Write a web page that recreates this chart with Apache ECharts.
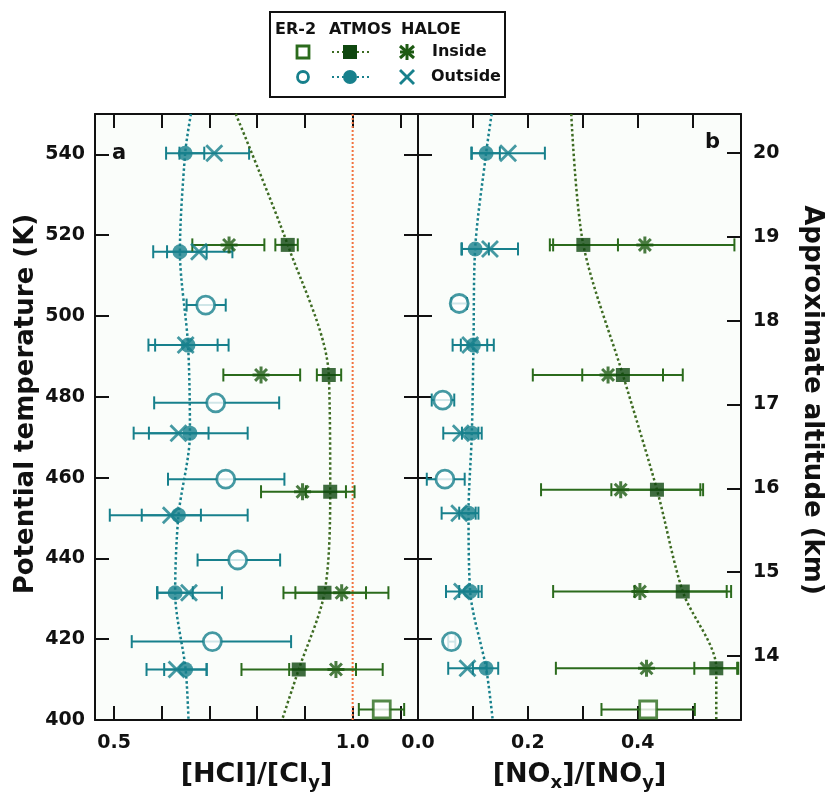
<!DOCTYPE html>
<html>
<head>
<meta charset="utf-8">
<script src="https://cdn.jsdelivr.net/npm/echarts@6/dist/echarts.min.js"></script>
<style>
  html, body { margin: 0; padding: 0; background: #fff; }
  #chart { width: 830px; height: 798px; }
</style>
</head>
<body>
<div id="chart"></div>
<script>
// rows: [theta (K), value, errLow, errHigh]
const er2InA = [[402.6, 1.061, 1.013, 1.108]];
const er2OutA = [[502.7, 0.692, 0.652, 0.734], [478.5, 0.713, 0.584, 0.846], [459.6, 0.734, 0.613, 0.857], [439.6, 0.759, 0.675, 0.848], [419.4, 0.706, 0.537, 0.871]];
const atmosInA = [[517.6, 0.864, 0.838, 0.885], [485.4, 0.950, 0.925, 0.976], [456.5, 0.953, 0.902, 1.004], [431.5, 0.941, 0.855, 1.028], [412.5, 0.887, 0.767, 1.007]];
const atmosOutA = [[540.3, 0.649, 0.609, 0.689], [515.9, 0.638, 0.582, 0.694], [492.8, 0.655, 0.572, 0.740], [471, 0.659, 0.541, 0.780], [450.7, 0.635, 0.491, 0.780], [431.5, 0.628, 0.591, 0.665], [412.5, 0.650, 0.605, 0.694]];
const haloeInA = [[517.6, 0.741, 0.664, 0.815], [485.4, 0.808, 0.729, 0.890], [456.5, 0.895, 0.808, 0.986], [431.5, 0.977, 0.880, 1.075], [412.5, 0.965, 0.867, 1.063]];
const haloeOutA = [[540.3, 0.710, 0.637, 0.783], [515.9, 0.678, 0.611, 0.748], [492.8, 0.650, 0.586, 0.717], [471, 0.635, 0.573, 0.698], [450.7, 0.619, 0.558, 0.682], [431.5, 0.657, 0.590, 0.726], [412.5, 0.631, 0.568, 0.694]];
// dotted ATMOS curves: [theta, value]
const fitOutA = [[550, 0.661], [540.3, 0.649], [515.9, 0.638], [492.8, 0.655], [471, 0.659], [450.7, 0.635], [431.5, 0.628], [412.5, 0.650], [400, 0.656]];
const fitInA = [[550, 0.755], [517.6, 0.864], [485.4, 0.950], [456.5, 0.953], [431.5, 0.941], [412.5, 0.887], [400, 0.852]];
const refLineA = 1.0;

const er2InB = [[402.6, 0.419, 0.334, 0.504]];
const er2OutB = [[503.1, 0.075, 0.061, 0.089], [479.2, 0.045, 0.025, 0.066], [459.6, 0.049, 0.016, 0.085], [419.4, 0.061, 0.055, 0.068]];
const atmosInB = [[517.6, 0.301, 0.240, 0.364], [485.4, 0.373, 0.299, 0.446], [457, 0.435, 0.352, 0.519], [431.8, 0.482, 0.394, 0.570], [412.8, 0.543, 0.503, 0.583]];
const atmosOutB = [[540.3, 0.124, 0.098, 0.149], [516.6, 0.104, 0.079, 0.129], [492.8, 0.101, 0.078, 0.126], [471, 0.098, 0.080, 0.116], [451.2, 0.092, 0.075, 0.110], [431.8, 0.095, 0.075, 0.116], [412.8, 0.124, 0.100, 0.146]];
const haloeInB = [[517.6, 0.413, 0.246, 0.576], [485.4, 0.346, 0.209, 0.482], [457, 0.369, 0.224, 0.514], [431.8, 0.404, 0.246, 0.562], [412.8, 0.416, 0.251, 0.581]];
const haloeOutB = [[540.3, 0.164, 0.097, 0.231], [516.6, 0.131, 0.080, 0.182], [492.8, 0.095, 0.063, 0.138], [471, 0.078, 0.046, 0.110], [451.2, 0.075, 0.043, 0.105], [431.8, 0.080, 0.051, 0.110], [412.8, 0.090, 0.055, 0.125]];
const fitOutB = [[550, 0.134], [540.3, 0.124], [516.6, 0.104], [492.8, 0.101], [471, 0.098], [451.2, 0.092], [431.8, 0.095], [412.8, 0.124], [400, 0.136]];
const fitInB = [[550, 0.279], [517.6, 0.301], [485.4, 0.373], [457, 0.435], [431.8, 0.482], [412.8, 0.543], [400, 0.543]];

// ticks
const ticksA = [0.5, 0.6, 0.7, 0.8, 0.9, 1.0, 1.1];
const labelsA = [0.5, 1.0];
const ticksB = [0, 0.1, 0.2, 0.3, 0.4, 0.5];
const labelsB = [0, 0.2, 0.4];
const altTicks = [14, 15, 16, 17, 18, 19, 20];

const TEAL = '#17808c';
const GREEN_DARK = '#0f470f';
const GREEN = '#2b6b1c';
const STAR = '#1d5a12';
const FONT = 'DejaVu Sans';

const X_PATH = 'path://M0,0L10,10M10,0L0,10';
const STAR_PATH = 'path://M5,0L5,10M0,5L10,5M1.5,1.5L8.5,8.5M8.5,1.5L1.5,8.5';

function errRender(color) {
  return function (params, api) {
    const p1 = api.coord([api.value(0), api.value(2)]);
    const p2 = api.coord([api.value(1), api.value(2)]);
    const h = 6.5;
    const st = { stroke: color, lineWidth: 2 };
    return {
      type: 'group',
      children: [
        { type: 'line', shape: { x1: p1[0], y1: p1[1], x2: p2[0], y2: p2[1] }, style: st },
        { type: 'line', shape: { x1: p1[0], y1: p1[1] - h, x2: p1[0], y2: p1[1] + h }, style: st },
        { type: 'line', shape: { x1: p2[0], y1: p2[1] - h, x2: p2[0], y2: p2[1] + h }, style: st }
      ]
    };
  };
}

function errSeries(rows, color, xi, yi) {
  return {
    type: 'custom', xAxisIndex: xi, yAxisIndex: yi, z: 2,
    renderItem: errRender(color),
    encode: { x: [0, 1], y: 2 },
    data: rows.map(r => [r[2], r[3], r[0]]),
    silent: true
  };
}

function pointSeries(rows, xi, yi, symbol, size, itemStyle) {
  return {
    type: 'scatter', xAxisIndex: xi, yAxisIndex: yi, z: 5,
    symbol: symbol, symbolSize: size, itemStyle: itemStyle,
    data: rows.map(r => [r[1], r[0]]),
    silent: true
  };
}

function fitSeries(rows, color, xi, yi) {
  return {
    type: 'line', xAxisIndex: xi, yAxisIndex: yi, z: 3,
    smooth: 0.3, symbol: 'none', silent: true,
    lineStyle: { type: 'dotted', width: 2.5, color: color },
    data: rows.map(r => [r[1], r[0]])
  };
}

function panelSeries(d, xi, yi) {
  return [
    errSeries(d.er2Out, TEAL, xi, yi),
    errSeries(d.atmosOut, TEAL, xi, yi),
    errSeries(d.haloeOut, TEAL, xi, yi),
    errSeries(d.er2In, GREEN, xi, yi),
    errSeries(d.atmosIn, GREEN, xi, yi),
    errSeries(d.haloeIn, GREEN, xi, yi),
    fitSeries(d.fitOut, TEAL, xi, yi),
    fitSeries(d.fitIn, '#3d6b22', xi, yi),
    pointSeries(d.er2Out, xi, yi, 'circle', 18, { color: '#fff', borderColor: TEAL, borderWidth: 2.8 }),
    pointSeries(d.er2In, xi, yi, 'rect', 17, { color: '#fff', borderColor: GREEN, borderWidth: 2.8 }),
    pointSeries(d.haloeOut, xi, yi, X_PATH, 16, { color: 'none', borderColor: TEAL, borderWidth: 2.8 }),
    pointSeries(d.haloeIn, xi, yi, STAR_PATH, 17, { color: 'none', borderColor: STAR, borderWidth: 3 }),
    pointSeries(d.atmosOut, xi, yi, 'circle', 15, { color: TEAL }),
    pointSeries(d.atmosIn, xi, yi, 'rect', 14, { color: GREEN_DARK })
  ];
}

const axisLine = { show: true, onZero: false, lineStyle: { color: '#111', width: 2 } };
const tick = { show: true, inside: true, length: 14, lineStyle: { color: '#111', width: 2 } };
const labelStyle = { fontFamily: FONT, fontWeight: 'bold', fontSize: 19, color: '#111' };
const xNameStyle = { fontFamily: FONT, fontWeight: 'bold', fontSize: 27, color: '#111' };
const subStyle = { fontFamily: FONT, fontWeight: 'bold', fontSize: 18, color: '#111', padding: [16, 0, 0, 0] };

function legendLine(x1, y1, x2, y2, color, w) {
  return { type: 'line', shape: { x1: x1, y1: y1, x2: x2, y2: y2 }, style: { stroke: color, lineWidth: w } };
}
function legendText(x, y, text) {
  return { type: 'text', x: x, y: y, style: { text: text, font: 'bold 16px "DejaVu Sans"', fill: '#111', verticalAlign: 'middle' } };
}

const chart = echarts.init(document.getElementById('chart'));
chart.setOption({
  backgroundColor: '#fff',
  animation: false,
  grid: [
    { left: 95, top: 114, width: 323, height: 606, show: true, backgroundColor: '#fafdfa', borderWidth: 0 },
    { left: 418, top: 114, width: 323, height: 606, show: true, backgroundColor: '#fafdfa', borderWidth: 0 }
  ],
  xAxis: [
    {
      gridIndex: 0, type: 'value', position: 'bottom', min: 0.46, max: 1.137,
      axisLine: axisLine, splitLine: { show: false },
      axisTick: Object.assign({ customValues: ticksA }, tick),
      axisLabel: Object.assign({ customValues: labelsA, margin: 14, formatter: v => v.toFixed(1) }, labelStyle),
      name: '[HCl]/[Cl{sub|y}]', nameLocation: 'middle', nameGap: 38,
      nameTextStyle: Object.assign({ rich: { sub: subStyle } }, xNameStyle)
    },
    {
      gridIndex: 0, type: 'value', position: 'top', min: 0.46, max: 1.137,
      axisLine: axisLine, splitLine: { show: false },
      axisTick: Object.assign({ customValues: ticksA }, tick),
      axisLabel: { show: false }
    },
    {
      gridIndex: 1, type: 'value', position: 'bottom', min: 0, max: 0.588,
      axisLine: axisLine, splitLine: { show: false },
      axisTick: Object.assign({ customValues: ticksB }, tick),
      axisLabel: Object.assign({ customValues: labelsB, margin: 14, formatter: v => v.toFixed(1) }, labelStyle),
      name: '[NO{sub|x}]/[NO{sub|y}]', nameLocation: 'middle', nameGap: 38,
      nameTextStyle: Object.assign({ rich: { sub: subStyle } }, xNameStyle)
    },
    {
      gridIndex: 1, type: 'value', position: 'top', min: 0, max: 0.588,
      axisLine: axisLine, splitLine: { show: false },
      axisTick: Object.assign({ customValues: ticksB }, tick),
      axisLabel: { show: false }
    }
  ],
  yAxis: [
    {
      gridIndex: 0, type: 'value', position: 'left', min: 400, max: 550, interval: 20,
      axisLine: axisLine, splitLine: { show: false }, axisTick: tick,
      axisLabel: Object.assign({ margin: 10, showMaxLabel: false }, labelStyle),
      name: 'Potential temperature (K)', nameLocation: 'middle', nameGap: 56, nameRotate: 90,
      nameTextStyle: { fontFamily: FONT, fontWeight: 'bold', fontSize: 26, color: '#111', padding: [0, 0, 0, 26] }
    },
    {
      gridIndex: 0, type: 'value', position: 'right', min: 400, max: 550, interval: 20,
      axisLine: axisLine, splitLine: { show: false }, axisTick: tick, axisLabel: { show: false }
    },
    {
      gridIndex: 1, type: 'value', position: 'left', min: 400, max: 550, interval: 20,
      axisLine: axisLine, splitLine: { show: false }, axisTick: tick, axisLabel: { show: false }
    },
    {
      gridIndex: 1, type: 'value', position: 'right', min: 13.237, max: 20.465,
      axisLine: axisLine, splitLine: { show: false },
      axisTick: Object.assign({ customValues: altTicks }, tick),
      axisLabel: Object.assign({ customValues: altTicks, margin: 12 }, labelStyle),
      name: 'Approximate altitude (km)', nameLocation: 'middle', nameGap: 58, nameRotate: -90,
      nameTextStyle: { fontFamily: FONT, fontWeight: 'bold', fontSize: 26, color: '#111', padding: [0, 34, 0, 0] }
    }
  ],
  graphic: [
    { type: 'rect', shape: { x: 270, y: 12, width: 235, height: 85 }, style: { fill: '#fff', stroke: '#111', lineWidth: 2 } },
    legendText(275, 30, 'ER-2'),
    legendText(329, 30, 'ATMOS'),
    legendText(401, 30, 'HALOE'),
    legendText(432, 52, 'Inside'),
    legendText(431, 77, 'Outside'),
    { type: 'rect', shape: { x: 297, y: 46, width: 12, height: 12 }, style: { fill: '#fff', stroke: GREEN, lineWidth: 2.8 } },
    { type: 'circle', shape: { cx: 303, cy: 77, r: 5.5 }, style: { fill: '#fff', stroke: TEAL, lineWidth: 2.8 } },
    { type: 'line', shape: { x1: 332, y1: 52, x2: 369, y2: 52 }, style: { stroke: '#3d6b22', lineWidth: 2.2, lineDash: [2, 3] } },
    { type: 'rect', shape: { x: 343, y: 45, width: 14, height: 14 }, style: { fill: GREEN_DARK } },
    { type: 'line', shape: { x1: 332, y1: 77, x2: 369, y2: 77 }, style: { stroke: TEAL, lineWidth: 2.2, lineDash: [2, 3] } },
    { type: 'circle', shape: { cx: 350, cy: 77, r: 7 }, style: { fill: TEAL } },
    legendLine(407, 44, 407, 60, STAR, 3),
    legendLine(400, 46, 414, 58, STAR, 3),
    legendLine(414, 46, 400, 58, STAR, 3),
    legendLine(400, 52, 414, 52, STAR, 3),
    legendLine(400, 70, 414, 84, TEAL, 2.8),
    legendLine(414, 70, 400, 84, TEAL, 2.8),
    { type: 'text', x: 112, y: 154, style: { text: 'a', font: 'bold 21px "DejaVu Sans"', fill: '#111', verticalAlign: 'middle' } },
    { type: 'text', x: 705, y: 143, style: { text: 'b', font: 'bold 21px "DejaVu Sans"', fill: '#111', verticalAlign: 'middle' } }
  ],
  series: [
    {
      type: 'line', xAxisIndex: 0, yAxisIndex: 0, z: 1, symbol: 'none', silent: true,
      lineStyle: { type: 'dotted', width: 2, color: '#f2733f' },
      data: [[refLineA, 400], [refLineA, 550]]
    }
  ].concat(
    panelSeries({ er2In: er2InA, er2Out: er2OutA, atmosIn: atmosInA, atmosOut: atmosOutA, haloeIn: haloeInA, haloeOut: haloeOutA, fitIn: fitInA, fitOut: fitOutA }, 0, 0),
    panelSeries({ er2In: er2InB, er2Out: er2OutB, atmosIn: atmosInB, atmosOut: atmosOutB, haloeIn: haloeInB, haloeOut: haloeOutB, fitIn: fitInB, fitOut: fitOutB }, 2, 2)
  )
});
</script>
</body>
</html>
